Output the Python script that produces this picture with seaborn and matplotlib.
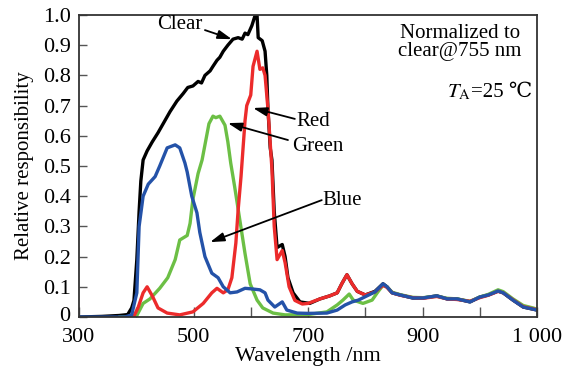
import matplotlib
matplotlib.use("Agg")
import matplotlib.pyplot as plt
import matplotlib.transforms as mtransforms
import seaborn as sns
import pandas as pd

# ---------------- data ----------------
clear_x = [300, 340, 370, 385, 392, 396, 401, 405, 408, 412, 419, 428, 438, 447, 459,
           471, 482, 490, 499, 508, 514, 520, 529, 534, 541, 546, 552, 560, 569, 578,
           585, 590, 595, 602, 607, 611, 613, 620, 625, 628, 630, 634, 637, 641, 646,
           655, 660, 665, 674, 686, 703, 721, 738, 751, 759, 768, 777, 786, 800, 817,
           831, 838, 847, 861, 883, 901, 925, 943, 960, 983, 1000, 1015, 1032, 1041, 1058,
           1076, 1093, 1100]
clear_y = [0.0, 0.002, 0.005, 0.008, 0.03, 0.055, 0.19, 0.35, 0.45, 0.52, 0.55, 0.58, 0.61, 0.64, 0.68,
           0.715, 0.74, 0.76, 0.765, 0.78, 0.775, 0.80, 0.815, 0.83, 0.85, 0.86, 0.88, 0.90, 0.92, 0.925,
           0.92, 0.94, 0.935, 0.965, 0.995, 1.0, 0.925, 0.915, 0.88, 0.80, 0.69, 0.56, 0.52, 0.35, 0.23,
           0.24, 0.20, 0.13, 0.08, 0.05, 0.045, 0.06, 0.07, 0.08, 0.11, 0.14, 0.11, 0.085, 0.073, 0.085,
           0.11, 0.10, 0.08, 0.073, 0.063, 0.063, 0.07, 0.06, 0.06, 0.05, 0.066, 0.073, 0.086, 0.08, 0.056,
           0.033, 0.026, 0.023]

red_x = [395, 403, 412, 419, 428, 438, 454, 476, 499, 517, 532, 541, 552, 560, 567,
         574, 578, 583, 590, 593, 600, 604, 611, 616, 621, 625, 630, 637, 641, 646,
         655, 660, 667, 677, 690, 700, 721, 738, 751, 759, 768, 777, 786, 800, 817,
         831, 838, 847, 861, 883, 901, 925, 943, 960, 983, 1000, 1015, 1032, 1041, 1058,
         1076, 1093, 1100]
red_y = [0.0, 0.03, 0.08, 0.10, 0.07, 0.03, 0.013, 0.007, 0.017, 0.045, 0.08, 0.095, 0.08, 0.09, 0.13,
         0.245, 0.355, 0.465, 0.65, 0.70, 0.735, 0.83, 0.88, 0.82, 0.825, 0.80, 0.69, 0.49, 0.30, 0.19,
         0.22, 0.18, 0.10, 0.055, 0.043, 0.045, 0.06, 0.07, 0.08, 0.11, 0.14, 0.11, 0.085, 0.073, 0.083,
         0.105, 0.098, 0.08, 0.072, 0.064, 0.062, 0.068, 0.06, 0.058, 0.052, 0.064, 0.072, 0.085, 0.08, 0.057,
         0.034, 0.027, 0.024]

green_x = [370, 390, 401, 412, 424, 441, 455, 468, 476, 489, 494, 499, 508, 515, 520,
           527, 534, 539, 546, 555, 560, 565, 572, 581, 590, 599, 611, 621, 639, 660,
           700, 733, 751, 761, 772, 779, 796, 812, 822, 831, 838, 847, 861, 883, 901,
           925, 943, 960, 983, 1000, 1015, 1032, 1041, 1058, 1076, 1093, 1100]
green_y = [0.0, 0.0, 0.005, 0.045, 0.06, 0.095, 0.13, 0.19, 0.255, 0.27, 0.31, 0.39, 0.475, 0.52, 0.57,
           0.64, 0.665, 0.66, 0.665, 0.635, 0.58, 0.51, 0.43, 0.32, 0.21, 0.11, 0.056, 0.03, 0.013, 0.007,
           0.008, 0.017, 0.04, 0.056, 0.076, 0.056, 0.045, 0.056, 0.083, 0.105, 0.10, 0.082, 0.074, 0.065, 0.064,
           0.069, 0.062, 0.06, 0.052, 0.066, 0.075, 0.09, 0.084, 0.06, 0.038, 0.03, 0.026]

blue_x = [300, 380, 392, 401, 405, 412, 421, 433, 441, 454, 468, 476, 485, 489, 497,
          506, 511, 520, 532, 543, 552, 564, 576, 590, 602, 616, 625, 630, 642, 655,
          663, 681, 700, 733, 751, 765, 777, 788, 803, 817, 831, 838, 847, 861, 883,
          901, 925, 943, 960, 983, 1000, 1015, 1032, 1041, 1058, 1076, 1093, 1100]
blue_y = [0.0, 0.0, 0.007, 0.08, 0.30, 0.40, 0.44, 0.465, 0.50, 0.56, 0.57, 0.56, 0.51, 0.48, 0.40,
          0.345, 0.28, 0.20, 0.145, 0.13, 0.10, 0.08, 0.083, 0.095, 0.093, 0.09, 0.08, 0.056, 0.033, 0.05,
          0.023, 0.013, 0.012, 0.013, 0.023, 0.04, 0.05, 0.056, 0.07, 0.083, 0.11, 0.10, 0.08, 0.073, 0.063,
          0.063, 0.07, 0.06, 0.06, 0.05, 0.066, 0.073, 0.086, 0.08, 0.056, 0.033, 0.026, 0.023]

series_names = ["Clear", "Green", "Red", "Blue"]
series_colors = {"Clear": "#000000", "Green": "#6cbf45", "Red": "#ec2b2b", "Blue": "#2452a8"}

x_ticks = [300, 400, 500, 600, 700, 800, 900, 1000, 1100]
x_tick_labels = ["300", "", "500", "", "700", "", "900", "", "1 000"]
y_ticks = [0.0, 0.1, 0.2, 0.3, 0.4, 0.5, 0.6, 0.7, 0.8, 0.9, 1.0]
y_tick_labels = ["0", "0.1", "0.2", "0.3", "0.4", "0.5", "0.6", "0.7", "0.8", "0.9", "1.0"]

# ---------------- build frame ----------------
frames = []
for name, xs, ys in [("Clear", clear_x, clear_y), ("Green", green_x, green_y),
                     ("Red", red_x, red_y), ("Blue", blue_x, blue_y)]:
    frames.append(pd.DataFrame({"Wavelength": xs, "Response": ys, "Channel": name}))
df = pd.concat(frames, ignore_index=True)

# ---------------- style ----------------
sns.set_theme(style="ticks")
plt.rcParams["font.family"] = ["Liberation Serif", "DejaVu Serif", "DejaVu Sans"]
plt.rcParams["mathtext.fontset"] = "stix"
plt.rcParams["text.color"] = "black"
plt.rcParams["axes.labelcolor"] = "black"
plt.rcParams["xtick.color"] = "black"
plt.rcParams["ytick.color"] = "black"

fig = plt.figure(figsize=(5.7, 3.72), dpi=100)
ax = fig.add_axes([79 / 570, 1 - 317 / 372, (537 - 79) / 570, (317 - 15) / 372])

for name in series_names:
    sub = df[df["Channel"] == name]
    sns.lineplot(data=sub, x="Wavelength", y="Response", color=series_colors[name],
                 linewidth=2.4, estimator=None, sort=False, ax=ax, legend=False)

ax.set_xlim(300, 1100)
ax.set_ylim(0, 1.0)
ax.set_xticks(x_ticks)
ax.set_xticklabels(x_tick_labels)
ax.set_yticks(y_ticks)
ax.set_yticklabels(y_tick_labels)
ax.tick_params(axis="x", direction="in", length=7, width=1.0, labelsize=16, pad=8,
               color="#555555", labelcolor="black")
ax.tick_params(axis="y", direction="in", length=6, width=1.0, labelsize=16, pad=6,
               color="#555555", labelcolor="black")
for sp in ax.spines.values():
    sp.set_visible(True)
    sp.set_linewidth(1.3)
    sp.set_color("#333333")

# lift the "0" label slightly, as in the reference
zero_lbl = ax.get_yticklabels()[0]
zero_lbl.set_transform(zero_lbl.get_transform() +
                       mtransforms.ScaledTranslation(0, 3 / 100, fig.dpi_scale_trans))

ax.set_xlabel("Wavelength /nm", fontsize=16, labelpad=0)
ax.set_ylabel("Relative responsibility", fontsize=15, labelpad=6)

# annotations
arrow = dict(arrowstyle="-|>,head_length=0.7,head_width=0.22", color="black", lw=1.3,
             shrinkA=0, shrinkB=0)
ax.text(476, 0.967, "Clear", fontsize=15, ha="center", va="center")
ax.annotate("", xy=(567, 0.92), xytext=(520, 0.95), arrowprops=arrow)
ax.text(709, 0.646, "Red", fontsize=15, ha="center", va="center")
ax.annotate("", xy=(604, 0.692), xytext=(677, 0.656), arrowprops=arrow)
ax.text(717, 0.566, "Green", fontsize=15, ha="center", va="center")
ax.annotate("", xy=(560, 0.642), xytext=(665, 0.586), arrowprops=arrow)
ax.text(759, 0.387, "Blue", fontsize=15, ha="center", va="center")
ax.annotate("", xy=(529, 0.248), xytext=(724, 0.387), arrowprops=arrow)

ax.text(0.832, 0.91, "Normalized to\nclear@755 nm", transform=ax.transAxes, fontsize=15,
        ha="center", va="center", multialignment="center", linespacing=0.95)
ax.text(0.855, 0.745, r"$T_\mathrm{A}$", transform=ax.transAxes, fontsize=15,
        ha="right", va="center")
ax.text(0.855, 0.745, "=25 ℃", transform=ax.transAxes, fontsize=15,
        ha="left", va="center")

fig.savefig("out.png", dpi=100)
